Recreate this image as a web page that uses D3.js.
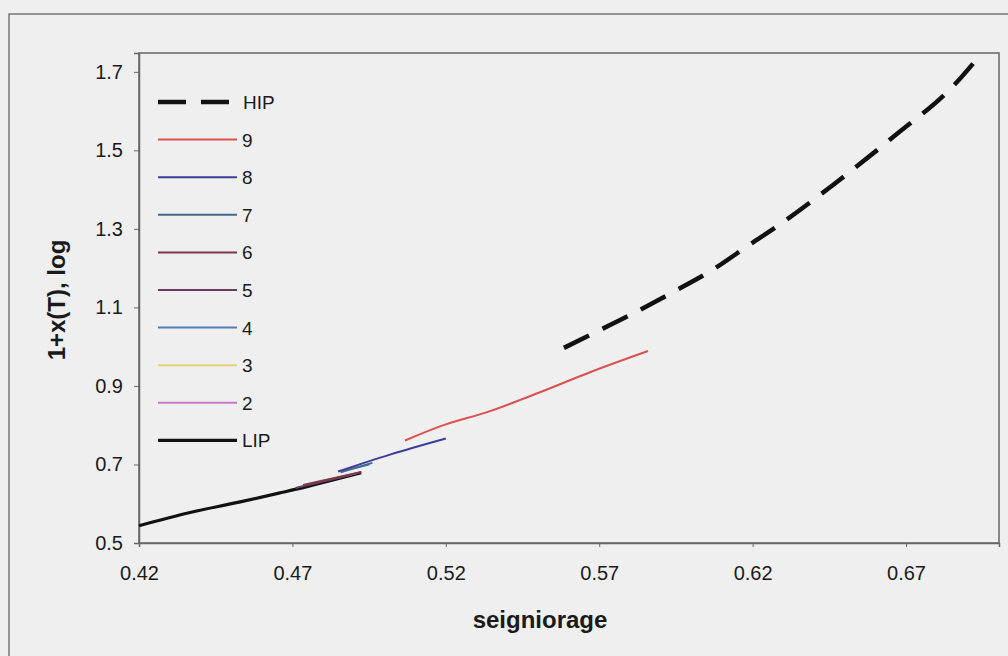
<!DOCTYPE html>
<html lang="en">
<head>
    <meta charset="UTF-8">
    <title>seigniorage vs 1+x(T)</title>
    <script src="https://d3js.org/d3.v7.min.js"></script>
    <style>
        body { margin: 0; background: #efefef; }
        svg { display: block; font-family: Arial, "Liberation Sans", sans-serif; }
        .tick text { font-size: 20px; fill: #1a1a1a; }
        .axis-title { font-size: 24px; font-weight: bold; fill: #1a1a1a; }
        .legend text { font-size: 19px; fill: #1a1a1a; }
    </style>
</head>
<body>
<svg id="chart" width="1008" height="656"></svg>

<script>
    // データ
    const xTicks = [0.42, 0.47, 0.52, 0.57, 0.62, 0.67];
    const yTicks = [0.5, 0.7, 0.9, 1.1, 1.3, 1.5, 1.7];

    const hipX = [0.5585, 0.567, 0.5794, 0.594, 0.607, 0.6198, 0.6273, 0.6462, 0.6658, 0.6866, 0.6945];
    const hipY = [0.997, 1.030, 1.078, 1.139, 1.196, 1.264, 1.303, 1.412, 1.534, 1.674, 1.746];
    const s9X = [0.5067, 0.5181, 0.5344, 0.5507, 0.567, 0.5859];
    const s9Y = [0.761, 0.797, 0.836, 0.884, 0.935, 0.989];
    const s8X = [0.4849, 0.5018, 0.52];
    const s8Y = [0.682, 0.725, 0.766];
    const s7X = [0.4857, 0.4961];
    const s7Y = [0.680, 0.704];
    const s6X = [0.4735, 0.4925];
    const s6Y = [0.648, 0.681];
    const s5X = [0.471, 0.489];
    const s5Y = [0.640, 0.673];
    const s4X = [0.486, 0.495];
    const s4Y = [0.683, 0.700];
    const s3X = [0.478, 0.490];
    const s3Y = [0.655, 0.676];
    const s2X = [0.476, 0.491];
    const s2Y = [0.651, 0.678];
    const lipX = [0.42, 0.4363, 0.4526, 0.4656, 0.4744, 0.481, 0.4924];
    const lipY = [0.544, 0.577, 0.604, 0.627, 0.643, 0.656, 0.679];

    // 系列 (凡例の順)
    const series = [
        { name: "HIP", x: hipX, y: hipY, color: "#111", width: 4.5, dash: "28,15" },
        { name: "9", x: s9X, y: s9Y, color: "#dc5050", width: 2 },
        { name: "8", x: s8X, y: s8Y, color: "#3c3c9c", width: 2 },
        { name: "7", x: s7X, y: s7Y, color: "#46698c", width: 2 },
        { name: "6", x: s6X, y: s6Y, color: "#7a3a48", width: 2 },
        { name: "5", x: s5X, y: s5Y, color: "#6a3a5c", width: 2 },
        { name: "4", x: s4X, y: s4Y, color: "#4f7fb8", width: 2 },
        { name: "3", x: s3X, y: s3Y, color: "#e6d07a", width: 2 },
        { name: "2", x: s2X, y: s2Y, color: "#c67ac2", width: 2 },
        { name: "LIP", x: lipX, y: lipY, color: "#111", width: 3.2 }
    ];

    const svg = d3.select("#chart");
    const plotL = 139, plotT = 53, plotR = 999, plotB = 543;

    const x = d3.scaleLinear().domain([0.42, 0.7003]).range([plotL, plotR]);
    const y = d3.scaleLinear().domain([0.5, 1.748]).range([plotB, plotT]);

    // 外枠
    svg.append("rect")
        .attr("x", 9).attr("y", 14).attr("width", 1010).attr("height", 660)
        .attr("fill", "#efefef").attr("stroke", "#777").attr("stroke-width", 1.5);

    // プロットエリア
    svg.append("rect")
        .attr("x", plotL).attr("y", plotT).attr("width", plotR - plotL).attr("height", plotB - plotT)
        .attr("fill", "#efefef").attr("stroke", "#666").attr("stroke-width", 1.5);

    // 軸
    const xAxis = svg.append("g")
        .attr("transform", `translate(0,${plotB})`)
        .call(d3.axisBottom(x).tickValues(xTicks).tickFormat(d3.format(".2f")).tickSize(4).tickPadding(19));
    const yAxis = svg.append("g")
        .attr("transform", `translate(${plotL},0)`)
        .call(d3.axisLeft(y).tickValues(yTicks).tickFormat(d3.format(".1f")).tickSize(5).tickPadding(11));
    [xAxis, yAxis].forEach(g => {
        g.attr("font-size", null).attr("font-family", null);
        g.select(".domain").attr("stroke", "#666").attr("stroke-width", 1.5);
        g.selectAll(".tick line").attr("stroke", "#666");
    });

    // 軸タイトル
    svg.append("text").attr("class", "axis-title")
        .attr("x", 540).attr("y", 628).attr("text-anchor", "middle")
        .text("seigniorage");
    svg.append("text").attr("class", "axis-title")
        .attr("transform", "translate(65,300) rotate(-90)")
        .attr("text-anchor", "middle")
        .text("1+x(T), log");

    // 線 (LIPを先に、HIPを最後に)
    const line = d3.line().curve(d3.curveMonotoneX).x(d => x(d[0])).y(d => y(d[1]));
    const drawOrder = series.slice().reverse();
    svg.append("g").selectAll("path")
        .data(drawOrder)
        .join("path")
        .attr("d", s => line(d3.zip(s.x, s.y)))
        .attr("fill", "none")
        .attr("stroke", s => s.color)
        .attr("stroke-width", s => s.width)
        .attr("stroke-dasharray", s => s.dash || null)
        .attr("stroke-linejoin", "round");

    // 凡例
    const legend = svg.append("g").attr("class", "legend");
    series.forEach((s, i) => {
        const ly = 102 + i * 37.6;
        legend.append("line")
            .attr("x1", 158).attr("x2", s.dash ? 230 : 237)
            .attr("y1", ly).attr("y2", ly)
            .attr("stroke", s.color)
            .attr("stroke-width", s.width)
            .attr("stroke-dasharray", s.dash || null);
        legend.append("text")
            .attr("x", s.dash ? 243 : 242).attr("y", ly + 7)
            .text(s.name);
    });
</script>
</body>
</html>
